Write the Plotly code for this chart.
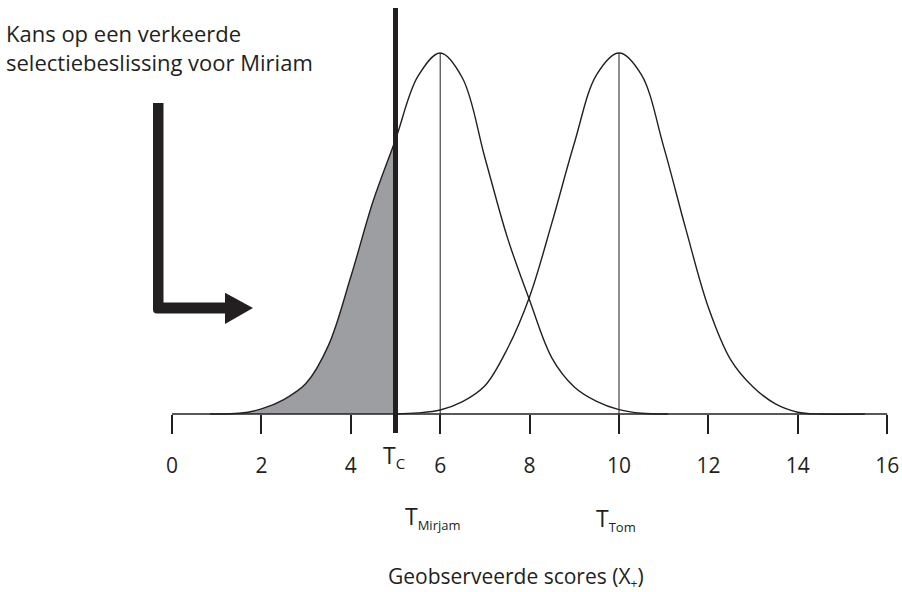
import plotly.graph_objects as go

# ---- data ----
tick_vals = [0, 2, 4, 6, 8, 10, 12, 14, 16]
tick_text = ["0", "2", "4", "6", "8", "10", "12", "14", "16"]

cutoff_tc = 5.0
mean_mirjam = 6.0
mean_tom = 10.0

mirjam_x = [0.85, 1.5, 2.0, 2.5, 3.0, 3.5, 4.0, 4.5, 5.0, 5.5, 6.0, 6.5, 7.0, 7.5, 8.0, 8.5, 9.0, 9.5, 10.0, 10.5, 11.1]
mirjam_y = [0.0, 0.002, 0.014, 0.04, 0.085, 0.19, 0.38, 0.59, 0.76, 0.935, 1.0, 0.93, 0.71, 0.49, 0.315, 0.155, 0.075, 0.035, 0.012, 0.002, 0.0]

tom_x = [5.0, 5.5, 6.0, 6.5, 7.0, 7.5, 8.0, 8.5, 9.0, 9.5, 10.0, 10.5, 11.0, 11.5, 12.0, 12.5, 13.0, 13.5, 14.0, 14.5, 15.5]
tom_y = [0.0, 0.003, 0.011, 0.034, 0.078, 0.18, 0.325, 0.53, 0.75, 0.94, 1.0, 0.94, 0.74, 0.51, 0.295, 0.15, 0.075, 0.028, 0.005, 0.0, 0.0]

INK = "#231f20"
GREY = "#9d9ea2"
FONT = "Open Sans"

W, H = 902, 592
# axis mapping: x=0 at 172px, 44.7 px per unit; y=0 at 414px, 361 px per unit
XPX0, XSC = 172.0, 44.7
YPX0, YSC = 414.0, 361.0
x_range = [-XPX0 / XSC, (W - XPX0) / XSC]
y_range = [-(H - YPX0) / YSC, YPX0 / YSC]

def P(px, py):
    return f"{px / W:.5f},{1 - py / H:.5f}"

def sub(s, size=14):
    return f"<sub><span style='font-size:{size}px'>{s}</span></sub>"

fig = go.Figure()

# shaded area under Mirjam up to the cutoff
shade_x = [x for x in mirjam_x if x <= cutoff_tc]
shade_y = [y for x, y in zip(mirjam_x, mirjam_y) if x <= cutoff_tc]
fig.add_trace(go.Scatter(x=shade_x, y=shade_y, mode="lines", line=dict(width=0, shape="spline", color=GREY),
                         fill="tozeroy", fillcolor=GREY, hoverinfo="skip", showlegend=False))

# baseline axis line
fig.add_trace(go.Scatter(x=[tick_vals[0], tick_vals[-1]], y=[0, 0], mode="lines",
                         line=dict(color=INK, width=1.6), hoverinfo="skip", showlegend=False))

# thin vertical lines at true scores
tick_len = 19 / YSC
for m in (mean_mirjam, mean_tom):
    fig.add_trace(go.Scatter(x=[m, m], y=[-tick_len, 1.0], mode="lines",
                             line=dict(color=INK, width=1), hoverinfo="skip", showlegend=False))

# distribution curves
fig.add_trace(go.Scatter(x=mirjam_x, y=mirjam_y, mode="lines", line=dict(color=INK, width=1.4, shape="spline"),
                         name="Mirjam", showlegend=False))
fig.add_trace(go.Scatter(x=tom_x, y=tom_y, mode="lines", line=dict(color=INK, width=1.4, shape="spline"),
                         name="Tom", showlegend=False))

# cutoff thick line
fig.add_trace(go.Scatter(x=[cutoff_tc, cutoff_tc], y=[-tick_len, (YPX0 - 8) / YSC], mode="lines",
                         line=dict(color=INK, width=5), hoverinfo="skip", showlegend=False))

# L-shaped arrow (decoration)
fig.add_shape(type="path", xref="paper", yref="paper",
              path=("M " + P(153, 103) + " L " + P(163.5, 103) + " L " + P(163.5, 302.5) + " L " + P(226, 302.5)
                    + " L " + P(226, 313.5) + " L " + P(157, 313.5) + " Q " + P(153, 313.5) + " " + P(153, 309.5) + " Z"),
              fillcolor=INK, line=dict(width=0))
fig.add_shape(type="path", xref="paper", yref="paper",
              path="M " + P(225, 292.7) + " L " + P(253, 308) + " L " + P(225, 324) + " Z",
              fillcolor=INK, line=dict(width=0))

annots = [
    dict(text="Kans op een verkeerde<br>selectiebeslissing voor Miriam", xref="paper", yref="paper",
         x=4 / W, y=1 - 16 / H, xanchor="left", yanchor="top", align="left", showarrow=False,
         font=dict(size=22, color=INK, family=FONT)),
    dict(text="T" + sub("C", 15), x=(381 - XPX0) / XSC, y=(YPX0 - 456) / YSC, xanchor="left", yanchor="middle",
         showarrow=False, font=dict(size=23, color=INK, family=FONT)),
    dict(text="T" + sub("Mirjam", 13), x=(403 - XPX0) / XSC, y=(YPX0 - 517) / YSC, xanchor="left", yanchor="middle",
         showarrow=False, font=dict(size=23, color=INK, family=FONT)),
    dict(text="T" + sub("Tom", 13), x=(594 - XPX0) / XSC, y=(YPX0 - 519) / YSC, xanchor="left", yanchor="middle",
         showarrow=False, font=dict(size=23, color=INK, family=FONT)),
    dict(text="Geobserveerde scores (X" + sub("+", 12) + ")", xref="paper", yref="paper",
         x=516 / W, y=1 - 577 / H, xanchor="center", yanchor="middle", showarrow=False,
         font=dict(size=21, color=INK, family=FONT)),
]

fig.update_layout(
    width=W, height=H, margin=dict(l=0, r=0, t=0, b=0),
    paper_bgcolor="white", plot_bgcolor="white",
    annotations=annots,
    xaxis=dict(range=x_range, showgrid=False, zeroline=False, showline=False,
               tickmode="array", tickvals=tick_vals, ticktext=tick_text,
               ticks="outside", ticklen=19, tickwidth=2, tickcolor=INK,
               tickfont=dict(size=21, color=INK, family=FONT),
               anchor="free", position=(H - YPX0) / H, ticklabelstandoff=14, fixedrange=True),
    yaxis=dict(range=y_range, visible=False, fixedrange=True),
)

fig.write_html("out.html", config={"displayModeBar": False},
               post_script="document.body.style.margin='0';document.body.style.overflow='hidden';")
